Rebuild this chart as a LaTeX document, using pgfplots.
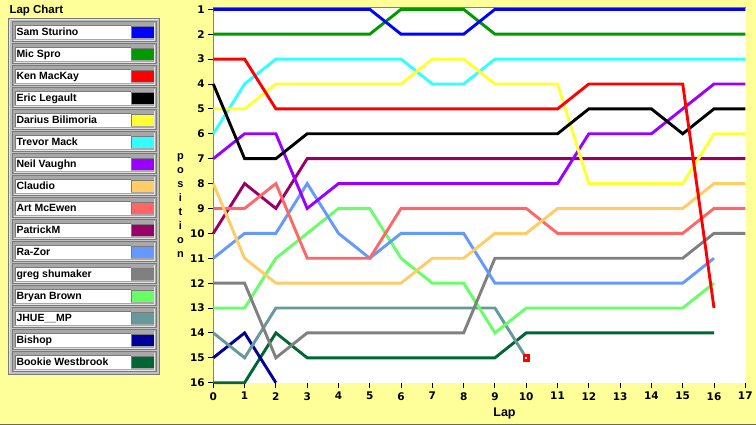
\documentclass[border=0pt]{standalone}
\usepackage{pgfplots}
\pgfplotsset{compat=1.18}
\usepackage{fontspec}
\setmainfont{Liberation Sans}
\newfontfamily\dejavu{DejaVu Sans}
\definecolor{bgy}{HTML}{FFFF99}
\definecolor{frm}{HTML}{6E6E46}
\definecolor{lg}{HTML}{C0C0C0}
\definecolor{mg}{HTML}{A8A8A8}
\definecolor{dg}{HTML}{7A7A7A}
\definecolor{hl}{HTML}{E4E4E4}
\definecolor{cSam}{HTML}{0000FF}
\definecolor{cMic}{HTML}{009900}
\definecolor{cKen}{HTML}{FF0000}
\definecolor{cEric}{HTML}{000000}
\definecolor{cDarius}{HTML}{FFFF33}
\definecolor{cTrevor}{HTML}{33FFFF}
\definecolor{cNeil}{HTML}{9900FF}
\definecolor{cClaudio}{HTML}{FFCC66}
\definecolor{cArt}{HTML}{FF6666}
\definecolor{cPatrick}{HTML}{990066}
\definecolor{cRazor}{HTML}{6699FF}
\definecolor{cGreg}{HTML}{808080}
\definecolor{cBryan}{HTML}{66FF66}
\definecolor{cJhue}{HTML}{669999}
\definecolor{cBishop}{HTML}{000099}
\definecolor{cBookie}{HTML}{006633}
\begin{document}
\begin{tikzpicture}[x=1pt,y=1pt]
\useasboundingbox (0,0) rectangle (756,425);
\fill[bgy] (0,0) rectangle (756,425);
\draw[frm,line width=1pt] (0,0.5) -- (756,0.5);
\begin{scope}[shift={(0,425)}, yscale=-1]
  % title
  \node[anchor=base west, inner sep=0, font=\fontsize{11.5}{13}\selectfont\bfseries] at (9.3,13.3) {Lap Chart};
  % plot background
  \fill[white] (213,7) rectangle (746,383);
  \draw[gray, line width=1pt] (213,7.5) -- (746,7.5);
  \draw[gray, line width=1.3pt] (213.3,7) -- (213.3,383);
  % axis titles
  \node[anchor=base, inner sep=0, font=\fontsize{12.5}{14}\selectfont\bfseries] at (504.5,416.7) {Lap};
  \node[inner sep=0, align=center, font=\fontsize{11}{14}\selectfont\bfseries] at (180.5,206) {p\\o\\s\\i\\t\\i\\o\\n};
  % legend frame
  \fill[lg] (8,18) rectangle (160,375);
  \draw[dg, line width=1pt] (8.5,18.5) rectangle (159.5,374.5);
  \draw[hl, line width=0.8pt] (9.8,19.8) -- (158.2,19.8);
  \draw[hl, line width=0.8pt] (9.8,19.8) -- (9.8,373.2);
  \foreach \n/\c [count=\i from 0] in {Sam Sturino/cSam, Mic Spro/cMic, Ken MacKay/cKen, Eric Legault/cEric, Darius Bilimoria/cDarius, Trevor Mack/cTrevor, Neil Vaughn/cNeil, Claudio/cClaudio, Art McEwen/cArt, PatrickM/cPatrick, Ra-Zor/cRazor, greg shumaker/cGreg, Bryan Brown/cBryan, JHUE\_\_MP/cJhue, Bishop/cBishop, Bookie Westbrook/cBookie} {
    \pgfmathsetmacro\yy{21+22*\i}
    \fill[mg] (11.5,\yy) rectangle (156.5,\yy+21);
    \draw[dg, line width=1pt] (12,\yy+0.5) rectangle (156,\yy+20.5);
    \draw[hl, line width=0.8pt] (13.5,\yy+19) -- (154.5,\yy+19) -- (154.5,\yy+2);
    \fill[white] (15,\yy+4.5) rectangle (130.5,\yy+18);
    \draw[dg, line width=1pt] (15,\yy+18) -- (15,\yy+5) -- (130.5,\yy+5);
    \fill[\c] (132,\yy+5.5) rectangle (153.5,\yy+17.5);
    \draw[dg, line width=0.8pt] (131.6,\yy+17.5) -- (131.6,\yy+5.1) -- (153.5,\yy+5.1);
    \node[anchor=base west, inner sep=0, font=\fontsize{10.5}{12}\selectfont\bfseries] at (16.3,\yy+15) {\n};
  }
\end{scope}
\begin{axis}[
  at={(213.3pt,42.3pt)}, anchor=south west,
  scale only axis, width=532pt, height=373.4pt,
  xmin=0, xmax=17, ymin=1, ymax=16, y dir=reverse,
  xtick={0,...,17}, ytick={1,...,16},
  tick pos=left, tick align=outside, major tick length=5pt,
  tick style={draw=black, line width=0.9pt},
  axis line style={draw=none},
  clip=false,
  tick label style={font=\dejavu\bfseries\fontsize{10.5}{12}\selectfont},
  xticklabel style={yshift=-1pt},
  /pgf/number format/assume math mode=true,
  every axis plot/.append style={line width=2.9pt, mark=none},
]
% Bookie Westbrook
\addplot[cBookie] coordinates {(0,16)(1,16)(2,14)(3,15)(4,15)(5,15)(6,15)(7,15)(8,15)(9,15)(10,14)(11,14)(12,14)(13,14)(14,14)(15,14)(16,14)};
% Bishop
\addplot[cBishop] coordinates {(0,15)(1,14)(2,16)};
% JHUE__MP
\addplot[cJhue] coordinates {(0,14)(1,15)(2,13)(3,13)(4,13)(5,13)(6,13)(7,13)(8,13)(9,13)(10,15)};
\addplot[only marks, mark=square*, mark size=2.4pt, mark options={draw=cKen, fill=white, line width=2.6pt}] coordinates {(10,15)};
% Bryan Brown
\addplot[cBryan] coordinates {(0,13)(1,13)(2,11)(3,10)(4,9)(5,9)(6,11)(7,12)(8,12)(9,14)(10,13)(11,13)(12,13)(13,13)(14,13)(15,13)(16,12)};
% greg shumaker
\addplot[cGreg] coordinates {(0,12)(1,12)(2,15)(3,14)(4,14)(5,14)(6,14)(7,14)(8,14)(9,11)(10,11)(11,11)(12,11)(13,11)(14,11)(15,11)(16,10)(17,10)};
% Ra-Zor
\addplot[cRazor] coordinates {(0,11)(1,10)(2,10)(3,8)(4,10)(5,11)(6,10)(7,10)(8,10)(9,12)(10,12)(11,12)(12,12)(13,12)(14,12)(15,12)(16,11)};
% PatrickM
\addplot[cPatrick] coordinates {(0,10)(1,8)(2,9)(3,7)(4,7)(5,7)(6,7)(7,7)(8,7)(9,7)(10,7)(11,7)(12,7)(13,7)(14,7)(15,7)(16,7)(17,7)};
% Art McEwen
\addplot[cArt] coordinates {(0,9)(1,9)(2,8)(3,11)(4,11)(5,11)(6,9)(7,9)(8,9)(9,9)(10,9)(11,10)(12,10)(13,10)(14,10)(15,10)(16,9)(17,9)};
% Claudio
\addplot[cClaudio] coordinates {(0,8)(1,11)(2,12)(3,12)(4,12)(5,12)(6,12)(7,11)(8,11)(9,10)(10,10)(11,9)(12,9)(13,9)(14,9)(15,9)(16,8)(17,8)};
% Neil Vaughn
\addplot[cNeil] coordinates {(0,7)(1,6)(2,6)(3,9)(4,8)(5,8)(6,8)(7,8)(8,8)(9,8)(10,8)(11,8)(12,6)(13,6)(14,6)(15,5)(16,4)(17,4)};
% Trevor Mack
\addplot[cTrevor] coordinates {(0,6)(1,4)(2,3)(3,3)(4,3)(5,3)(6,3)(7,4)(8,4)(9,3)(10,3)(11,3)(12,3)(13,3)(14,3)(15,3)(16,3)(17,3)};
% Darius Bilimoria
\addplot[cDarius] coordinates {(0,5)(1,5)(2,4)(3,4)(4,4)(5,4)(6,4)(7,3)(8,3)(9,4)(10,4)(11,4)(12,8)(13,8)(14,8)(15,8)(16,6)(17,6)};
% Eric Legault
\addplot[cEric] coordinates {(0,4)(1,7)(2,7)(3,6)(4,6)(5,6)(6,6)(7,6)(8,6)(9,6)(10,6)(11,6)(12,5)(13,5)(14,5)(15,6)(16,5)(17,5)};
% Ken MacKay
\addplot[cKen] coordinates {(0,3)(1,3)(2,5)(3,5)(4,5)(5,5)(6,5)(7,5)(8,5)(9,5)(10,5)(11,5)(12,4)(13,4)(14,4)(15,4)(16,13)};
% Mic Spro
\addplot[cMic] coordinates {(0,2)(1,2)(2,2)(3,2)(4,2)(5,2)(6,1)(7,1)(8,1)(9,2)(10,2)(11,2)(12,2)(13,2)(14,2)(15,2)(16,2)(17,2)};
% Sam Sturino
\addplot[cSam] coordinates {(0,1)(1,1)(2,1)(3,1)(4,1)(5,1)(6,2)(7,2)(8,2)(9,1)(10,1)(11,1)(12,1)(13,1)(14,1)(15,1)(16,1)(17,1)};
\end{axis}
\end{tikzpicture}
\end{document}
